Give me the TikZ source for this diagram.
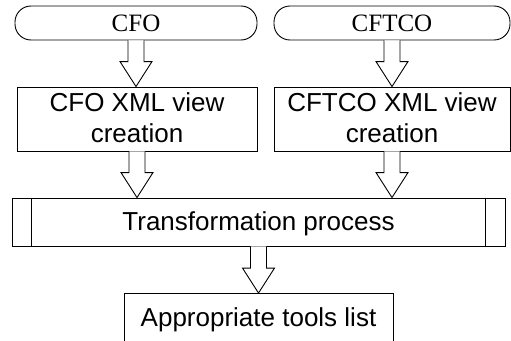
\documentclass[tikz,border=0pt]{standalone}
\usepackage{fontspec}
\setmainfont{Liberation Sans}
\newfontfamily\serifface{Liberation Serif}
\usetikzlibrary{calc}
\tikzset{
  every path/.style={line width=0.9pt},
  box/.style={draw, line width=0.9pt, inner sep=0pt},
  term/.style={draw, line width=0.9pt, rounded corners=16pt, inner sep=0pt},
  sanslabel/.style={font=\fontsize{26}{30}\selectfont, anchor=base, inner sep=0pt},
  seriflabel/.style={font=\serifface\fontsize{25}{28}\selectfont, anchor=base, inner sep=0pt},
  barrow/.style={draw, line width=0.9pt, fill=white}
}
\newcommand\blkarrow[2]{%
  \draw[barrow] let \p1=(#1), \p2=(#2) in
    (\x1-8pt,\y1) -- (\x1-8pt,\y2+25pt) -- (\x1-16pt,\y2+25pt) -- (\x1,\y2)
    -- (\x1+16pt,\y2+25pt) -- (\x1+8pt,\y2+25pt) -- (\x1+8pt,\y1);}
\begin{document}
\begin{tikzpicture}[x=1pt,y=-1pt]
  \useasboundingbox (0,0) rectangle (511,340);
  % terminals
  \node[term, minimum width=242pt, minimum height=34pt] (t1) at (136,23) {};
  \node[term, minimum width=236pt, minimum height=34pt] (t2) at (392,23) {};
  \node[seriflabel] (t1l) at (136,31.5) {CFO};
  \node[seriflabel] (t2l) at (392,31.5) {CFTCO};
  % view boxes
  \node[box, minimum width=240pt, minimum height=64pt] (b1) at (137,119) {};
  \node[box, minimum width=236pt, minimum height=64pt] (b2) at (392,119) {};
  \node[sanslabel] (b1a) at (137,111) {CFO XML view};
  \node[sanslabel] (b1b) at (137,142) {creation};
  \node[sanslabel] (b2a) at (392,111) {CFTCO XML view};
  \node[sanslabel] (b2b) at (392,142) {creation};
  % process
  \node[box, minimum width=493pt, minimum height=48pt] (p) at (258.5,222) {};
  \draw (p.north west) ++(20,0) coordinate (pl1) -- (pl1 |- p.south);
  \draw (p.north east) ++(-20,0) coordinate (pr1) -- (pr1 |- p.south);
  \node[sanslabel] (pl) at (258.5,230) {Transformation process};
  % final
  \node[box, minimum width=269pt, minimum height=50pt] (f) at (258.5,318.5) {};
  \node[sanslabel] (fl) at (258.5,326) {Appropriate tools list};
  % arrows
  \blkarrow{t1.south}{b1.north}
  \blkarrow{t2.south}{b2.north}
  \blkarrow{b1.south}{b1.south |- p.north}
  \blkarrow{b2.south}{b2.south |- p.north}
  \blkarrow{p.south}{f.north}
\end{tikzpicture}
\end{document}
